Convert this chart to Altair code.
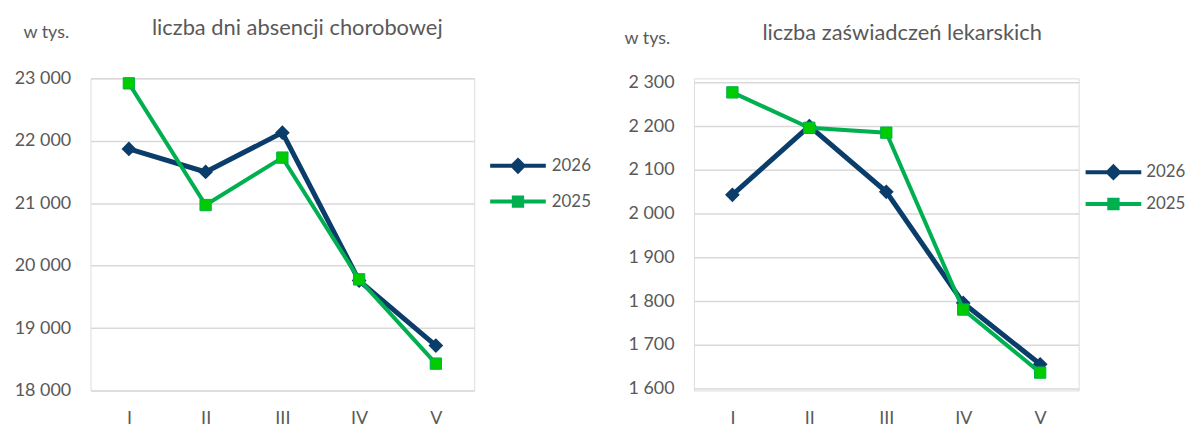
import altair as alt
import pandas as pd

months = ["I", "II", "III", "IV", "V"]
series = ["2026", "2025"]

days_2026 = [21870, 21500, 22130, 19760, 18720]
days_2025 = [22920, 20970, 21730, 19780, 18430]
cert_2026 = [2043, 2200, 2050, 1796, 1656]
cert_2025 = [2277, 2196, 2185, 1781, 1637]

days_ticks = [18000, 19000, 20000, 21000, 22000, 23000]
cert_ticks = [1600, 1700, 1800, 1900, 2000, 2100, 2200, 2300]

NAVY = "#0B3D6B"
GREEN = "#00B050"
GREEN_MK = "#00CC00"
GRAY = "#595959"
FONT = "Lato"


def long(a, b):
    rows = []
    for m, v in zip(months, a):
        rows.append({"month": m, "series": "2026", "value": v})
    for m, v in zip(months, b):
        rows.append({"month": m, "series": "2025", "value": v})
    return pd.DataFrame(rows)


LINE_DIAMOND = "M-2,0 L2,0 M0,-0.4 L0.4,0 L0,0.4 L-0.4,0 Z"
LINE_SQUARE = "M-2,0 L2,0 M-0.3,-0.3 L0.3,-0.3 L0.3,0.3 L-0.3,0.3 Z"


def panel(df, ticks, title, w, h, y_range, legend_x, legend_y, row_pad, label_off,
          title_dx, title_offset, ytitle_x, ytitle_y):
    x = alt.X("month:O", sort=months,
              scale=alt.Scale(type="point", padding=0.5),
              axis=alt.Axis(title=None, labelAngle=0, domain=False, ticks=False,
                            labelPadding=19, labelFontSize=18, labelColor=GRAY,
                            labelFont=FONT, grid=False))
    y = alt.Y("value:Q", scale=alt.Scale(domain=[ticks[0], ticks[-1]], nice=False,
                                         zero=False, range=y_range),
              axis=alt.Axis(title="w tys.", titleAngle=0, titleAlign="right",
                            titleBaseline="middle", titleX=ytitle_x, titleY=ytitle_y,
                            titleFont=FONT, titleFontSize=18, titleFontWeight="normal",
                            titleColor=GRAY, values=ticks, domain=False, ticks=False,
                            labelPadding=20, labelFontSize=18, labelColor=GRAY,
                            labelFont=FONT,
                            labelExpr="replace(format(datum.value, ','), ',', ' ')",
                            grid=True, gridColor="#D9D9D9", gridWidth=1.5))
    color = alt.Color("series:N", scale=alt.Scale(domain=series, range=[NAVY, GREEN]), legend=None)

    leg = dict(title=None, orient="none", legendX=legend_x, legendY=legend_y,
               symbolSize=784, symbolStrokeWidth=4, symbolOpacity=1, rowPadding=row_pad,
               labelFontSize=17, labelColor=GRAY, labelFont=FONT, labelOffset=label_off,
               padding=0)
    fill = alt.Fill("series:N", scale=alt.Scale(domain=series, range=[NAVY, GREEN_MK]),
                    legend=alt.Legend(**leg))
    stroke = alt.Stroke("series:N", scale=alt.Scale(domain=series, range=[NAVY, GREEN]),
                        legend=alt.Legend(**leg))
    shape = alt.Shape("series:N", scale=alt.Scale(domain=series, range=[LINE_DIAMOND, LINE_SQUARE]),
                      legend=alt.Legend(**leg))

    base = alt.Chart(df)
    l26 = base.transform_filter(alt.datum.series == "2026").mark_line(strokeWidth=5).encode(x=x, y=y, color=color)
    p26 = base.transform_filter(alt.datum.series == "2026").mark_point(
        shape="diamond", filled=True, size=220, opacity=1, color=NAVY).encode(x=x, y=y)
    l25 = base.transform_filter(alt.datum.series == "2025").mark_line(strokeWidth=4).encode(x=x, y=y, color=color)
    p25 = base.transform_filter(alt.datum.series == "2025").mark_point(
        shape="square", filled=True, size=130, opacity=1, color=GREEN_MK,
        stroke=GREEN, strokeWidth=1).encode(x=x, y=y)
    legend_layer = base.mark_point(size=0, opacity=0, strokeWidth=4).encode(
        x=x, y=y, fill=fill, stroke=stroke, shape=shape)
    return alt.layer(legend_layer, l26, p26, l25, p25).properties(
        width=w, height=h,
        title=alt.TitleParams(title, font=FONT, fontSize=22, fontWeight="normal",
                              color=GRAY, anchor="middle", frame="group",
                              dx=title_dx, offset=title_offset),
    )


left = panel(long(days_2026, days_2025), days_ticks, "liczba dni absencji chorobowej",
             386, 314, [314, 0], 414, 72, 6, 18, 15, -16.3, -22, -46)
right = panel(long(cert_2026, cert_2025), cert_ticks, "liczba zaświadczeń lekarskich",
              387, 314, [312.3, 4], 406, 78.4, 2, 17, 16, -15.3, -24.3, -40.3)

chart = alt.hconcat(left, right, spacing=30).resolve_scale(
    color="independent", fill="independent", stroke="independent", shape="independent"
).properties(
    padding={"left": 5, "top": 6.5, "right": 0, "bottom": 0}
).configure_view(stroke=None).configure(font=FONT)

chart.save("out.html", embed_options={"renderer": "svg", "actions": False})
